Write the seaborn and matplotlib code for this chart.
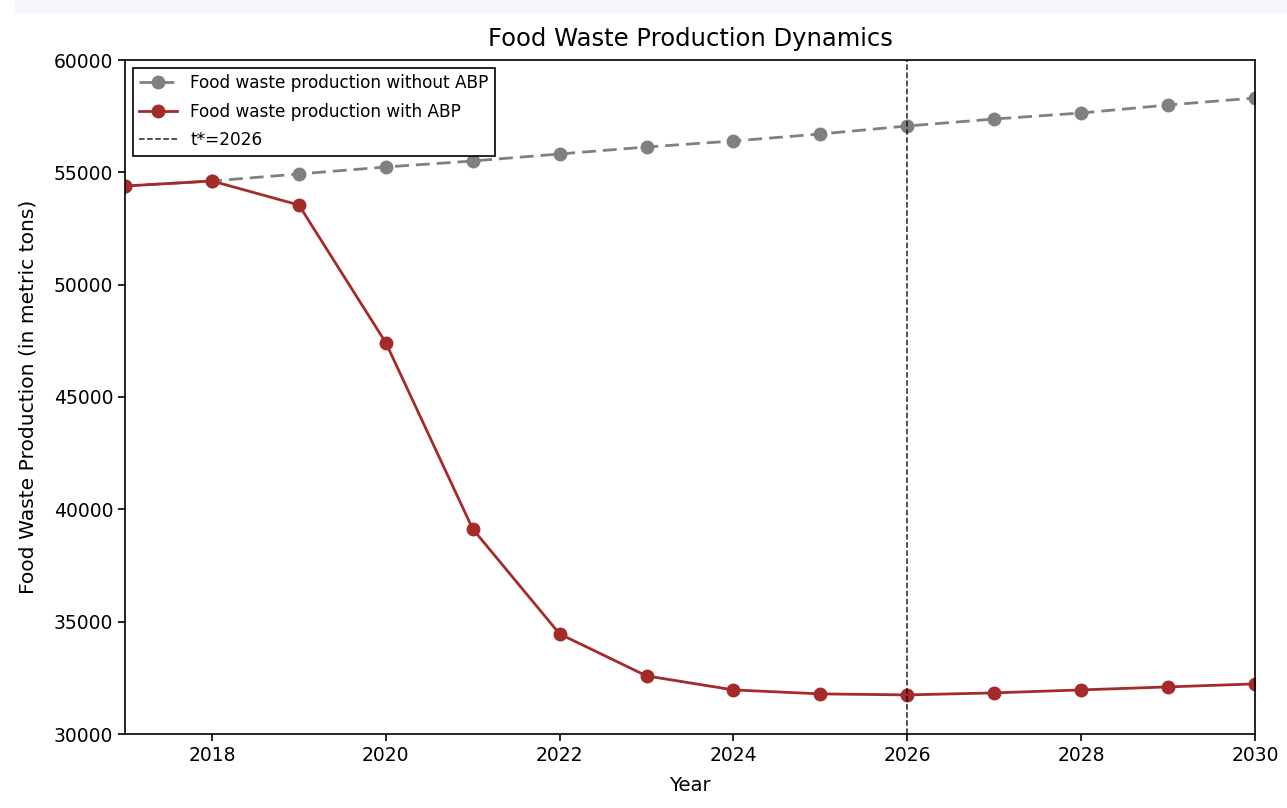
import matplotlib
matplotlib.use("Agg")
import matplotlib.pyplot as plt
import seaborn as sns
import pandas as pd
from matplotlib.patches import Rectangle

# Annual food waste production (metric tons)
years = [2017, 2018, 2019, 2020, 2021, 2022, 2023, 2024, 2025, 2026, 2027, 2028, 2029, 2030]
waste_without_abp = [54390, 54615, 54927, 55238, 55505, 55817, 56128, 56395, 56707,
                     57063, 57374, 57641, 57997, 58309]
waste_with_abp = [54390, 54615, 53547, 47420, 39128, 34455, 32586, 31963, 31785,
                  31740, 31830, 31963, 32096, 32230]
t_star = 2026

df = pd.DataFrame({"Year": years,
                   "without": waste_without_abp,
                   "with": waste_with_abp})

fig = plt.figure(figsize=(12.87, 8.08), dpi=100)
fig.patches.append(Rectangle((15 / 1287, 1 - 12 / 808), 1, 12 / 808,
                             transform=fig.transFigure, color="#f4f6fb", zorder=0))
ax = fig.add_axes([125 / 1287, 1 - 734 / 808, 1130 / 1287, 674 / 808])

lw = 2.0
sns.lineplot(data=df, x="Year", y="without", ax=ax, color="gray", linestyle=(0, (5, 2.5)),
             linewidth=lw, marker="o", markersize=9, markeredgecolor="gray",
             markeredgewidth=1, label="Food waste production without ABP")
sns.lineplot(data=df, x="Year", y="with", ax=ax, color="#a52a2a", linestyle="-",
             linewidth=lw, marker="o", markersize=9, markeredgecolor="#a52a2a",
             markeredgewidth=1, label="Food waste production with ABP")
ax.axvline(t_star, color="black", linestyle="--", linewidth=1.1, alpha=0.85,
           label=f"t*={t_star}")

ax.set_xlim(2017, 2030)
ax.set_ylim(30000, 60000)
ax.set_xticks([2018, 2020, 2022, 2024, 2026, 2028, 2030])
ax.set_yticks([30000, 35000, 40000, 45000, 50000, 55000, 60000])
ax.tick_params(labelsize=13.5, length=5, width=1.2)
for s in ax.spines.values():
    s.set_linewidth(1.2)

ax.set_title("Food Waste Production Dynamics", fontsize=17.5, pad=10)
ax.set_xlabel("Year", fontsize=14.2, labelpad=8)
ax.set_ylabel("Food Waste Production (in metric tons)", fontsize=14.6, labelpad=12)

leg = ax.legend(loc="upper left", fontsize=12.2, fancybox=False, edgecolor="black",
                framealpha=1, borderaxespad=0.45, labelspacing=0.6, handlelength=2.2)
leg.get_frame().set_linewidth(1.2)

fig.savefig("out.png", dpi=100)
